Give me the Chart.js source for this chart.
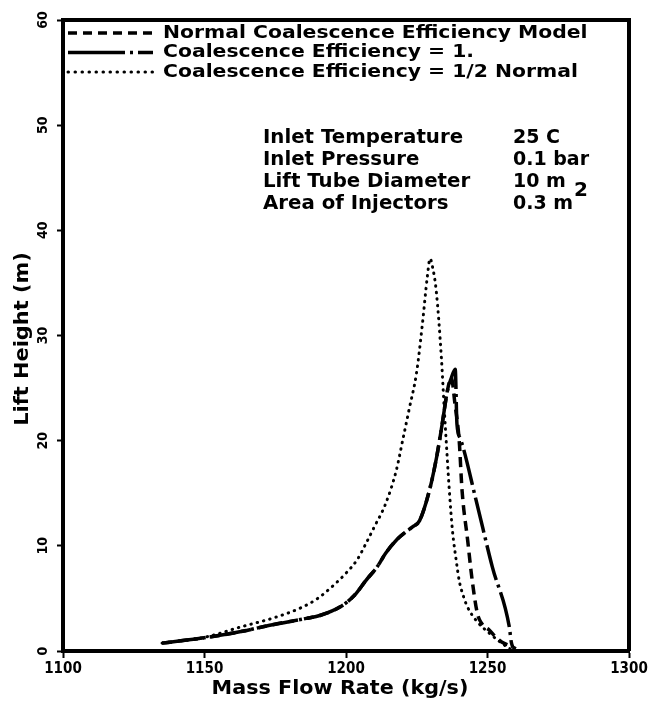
<!DOCTYPE html>
<html>
<head>
<meta charset="utf-8">
<script src="https://cdn.jsdelivr.net/npm/chart.js@4/dist/chart.umd.min.js"></script>
<style>
  html, body { margin: 0; padding: 0; background: #fff; overflow: hidden; }
  canvas { display: block; }
</style>
</head>
<body>
<canvas id="chart" width="651" height="701"></canvas>
<script>
/* DATA */
const xTicks = [1100, 1150, 1200, 1250, 1300];
const yTicks = [0, 10, 20, 30, 40, 50, 60];

const seriesNames = [
  "Normal Coalescence Efficiency Model",
  "Coalescence Efficiency = 1.",
  "Coalescence Efficiency = 1/2 Normal"
];

const flowNormal = [1135, 1141, 1151, 1162, 1174, 1186, 1191, 1198, 1203, 1207, 1211, 1214, 1218, 1221, 1223.5, 1226, 1229.5, 1232, 1234, 1235.8, 1237.2, 1238.5, 1240, 1241, 1243, 1244.6, 1246.4, 1248, 1250.6, 1253, 1255, 1258, 1260];
const liftNormal = [0.75, 0.95, 1.3, 1.8, 2.5, 3.1, 3.4, 4.2, 5.3, 6.7, 8.0, 9.3, 10.6, 11.3, 11.8, 12.4, 15.3, 18.4, 21.6, 24.7, 26.0, 23.5, 20.0, 15.3, 10.5, 6.7, 3.6, 2.6, 2.0, 1.3, 0.85, 0.5, 0.2];

const flowFull = [1135, 1141, 1151, 1162, 1174, 1186, 1191, 1198, 1203, 1207, 1211, 1214, 1218, 1221, 1223.5, 1226, 1229.5, 1232, 1234, 1235.8, 1237, 1238.6, 1239.2, 1240.4, 1246, 1251.7, 1257.7, 1258.4, 1259];
const liftFull = [0.75, 0.95, 1.3, 1.8, 2.5, 3.1, 3.4, 4.2, 5.3, 6.7, 8.0, 9.3, 10.6, 11.3, 11.8, 12.4, 15.3, 18.4, 21.6, 24.7, 25.8, 26.8, 21.6, 20.2, 14.3, 8.0, 2.3, 0.85, 0.3];

const flowHalf = [1135, 1150, 1163, 1175, 1184, 1190, 1195, 1200, 1204, 1207, 1210, 1214, 1217.8, 1220, 1222.4, 1224.9, 1227, 1228.7, 1229.7, 1230.6, 1231.9, 1233.7, 1234.7, 1235.4, 1236.5, 1237.6, 1239, 1240, 1241.5, 1242.9, 1246, 1250.6, 1255, 1258];
const liftHalf = [0.75, 1.3, 2.3, 3.2, 4.1, 5.0, 6.1, 7.4, 8.7, 10.2, 11.8, 14.0, 17.2, 20.0, 23.1, 26.4, 31.1, 35.5, 37.3, 36.5, 34.2, 27.9, 23.1, 20.0, 15.3, 11.5, 8.5, 6.7, 5.2, 4.2, 2.9, 1.7, 0.75, 0.2];

const infoLabels = ["Inlet Temperature", "Inlet Pressure", "Lift Tube Diameter", "Area of Injectors"];
const infoValues = ["25 C", "0.1 bar", "10 m", "0.3 m"];

const FONT = "'DejaVu Sans', sans-serif";
const COND = "'DejaVu Sans Condensed', 'DejaVu Sans', sans-serif";

function pts(xs, ys){
  return xs.map((x, i) => ({x: x, y: ys[i]}));
}

// text stretched sideways, the plotter font is wider than DejaVu
function wideText(ctx, s, x, y, sx, rot){
  ctx.save();
  ctx.translate(x, y);
  if(rot) ctx.rotate(rot);
  ctx.scale(sx, 1);
  ctx.fillText(s, 0, 0);
  ctx.restore();
}

/* FRAME, LEGEND, TEXT */
const decorations = {
  id: "decorations",
  afterDraw(chart){
    const ctx = chart.ctx;
    const a = chart.chartArea;
    const ys = chart.scales.y;
    ctx.save();

    // top and right frame
    ctx.strokeStyle = "#000";
    ctx.lineWidth = 4;
    ctx.beginPath();
    ctx.moveTo(a.left, a.top);
    ctx.lineTo(a.right, a.top);
    ctx.lineTo(a.right, a.bottom);
    ctx.stroke();

    // y tick labels, rotated
    ctx.fillStyle = "#000";
    ctx.font = "bold 14px " + COND;
    ctx.textAlign = "center";
    ctx.textBaseline = "middle";
    yTicks.forEach(v => {
      wideText(ctx, String(v), a.left - 20, ys.getPixelForValue(v), 1, -Math.PI / 2);
    });

    // axis titles
    ctx.font = "bold 19px " + FONT;
    wideText(ctx, "Lift Height (m)", 23, 339, 1.1, -Math.PI / 2);
    wideText(ctx, "Mass Flow Rate (kg/s)", 340, 689, 1.09, 0);

    // legend
    ctx.textAlign = "left";
    ctx.font = "bold 18px " + FONT;
    chart.data.datasets.forEach((ds, i) => {
      const y = 33 + i * 19.5;
      ctx.save();
      ctx.strokeStyle = "#000";
      ctx.lineWidth = ds.borderWidth;
      ctx.lineCap = ds.borderCapStyle || "butt";
      ctx.setLineDash(ds.legendDash);
      ctx.beginPath();
      ctx.moveTo(68, y);
      ctx.lineTo(153, y);
      ctx.stroke();
      ctx.restore();
      wideText(ctx, ds.label, 163, y, 1.13, 0);
    });

    // info block
    ctx.font = "bold 19px " + FONT;
    infoLabels.forEach((t, i) => {
      const y = 138 + i * 22;
      wideText(ctx, t, 263, y, 1.04, 0);
      wideText(ctx, infoValues[i], 513, y, 1.0, 0);
    });
    ctx.font = "bold 20px " + FONT;
    wideText(ctx, "2", 574, 191, 1, 0);

    ctx.restore();
  }
};

const ctx = document.getElementById("chart");

new Chart(ctx, {
  type: "line",
  data: {
    datasets: [
      {
        label: seriesNames[0],
        data: pts(flowNormal, liftNormal),
        borderColor: "#000",
        borderWidth: 3.5,
        borderDash: [10, 6],
        legendDash: [9, 6],
        order: 2
      },
      {
        label: seriesNames[1],
        data: pts(flowFull, liftFull),
        borderColor: "#000",
        borderWidth: 3.5,
        borderDash: [36, 5, 3, 5],
        legendDash: [57, 5, 3, 5, 15, 100],
        order: 1
      },
      {
        label: seriesNames[2],
        data: pts(flowHalf, liftHalf),
        borderColor: "#000",
        borderWidth: 3,
        borderCapStyle: "round",
        borderDash: [0.5, 6],
        legendDash: [0.5, 6.5],
        order: 3
      }
    ]
  },
  options: {
    responsive: false,
    animation: false,
    devicePixelRatio: 1,
    layout: { padding: { top: 20, right: 22, left: 0, bottom: 0 } },
    elements: {
      point: { radius: 0 },
      line: { cubicInterpolationMode: "monotone", fill: false }
    },
    plugins: {
      legend: { display: false },
      tooltip: { enabled: false }
    },
    scales: {
      x: {
        type: "linear",
        min: 1100,
        max: 1300,
        afterBuildTicks(scale){ scale.ticks = xTicks.map(v => ({value: v})); },
        afterFit(scale){ scale.height = 50; },
        ticks: {
          color: "#000",
          padding: 2,
          maxRotation: 0,
          callback: v => String(v),
          font: { family: COND, size: 15, weight: "bold" }
        },
        grid: { drawOnChartArea: false, drawTicks: true, tickLength: 7, tickColor: "#000", tickWidth: 2 },
        border: { display: true, color: "#000", width: 4 }
      },
      y: {
        min: 0,
        max: 60,
        afterBuildTicks(scale){ scale.ticks = yTicks.map(v => ({value: v})); },
        afterFit(scale){ scale.width = 63; },
        ticks: { display: false },
        grid: { drawOnChartArea: false, drawTicks: true, tickLength: 6, tickColor: "#000", tickWidth: 2 },
        border: { display: true, color: "#000", width: 4 }
      }
    }
  },
  plugins: [decorations]
});
</script>
</body>
</html>
